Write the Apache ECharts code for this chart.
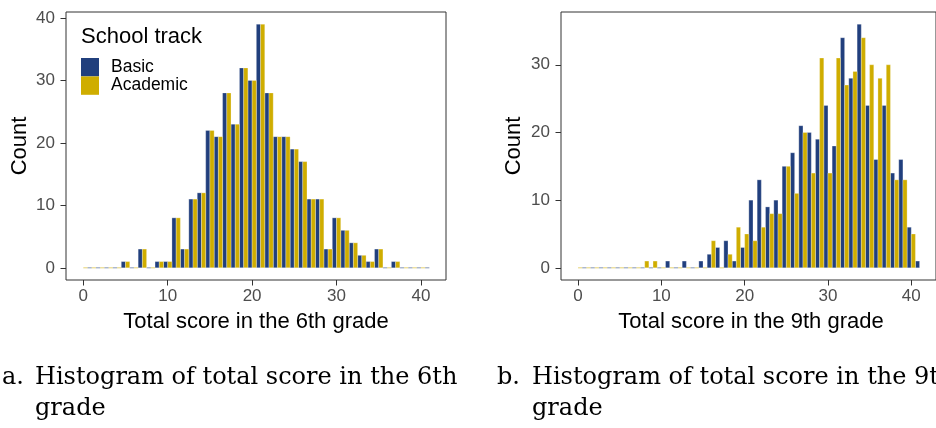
<!DOCTYPE html>
<html>
<head>
<meta charset="utf-8">
<script src="https://cdn.jsdelivr.net/npm/echarts@6/dist/echarts.min.js"></script>
<style>
  html, body { margin: 0; padding: 0; background: #ffffff; }
  #chart { width: 936px; height: 428px; }
</style>
</head>
<body>
<div id="chart"></div>
<script>
// ---- data (score bins, counts per school track) ----
const bins = [0,1,2,3,4,5,6,7,8,9,10,11,12,13,14,15,16,17,18,19,20,21,22,23,24,25,26,27,28,29,30,31,32,33,34,35,36,37,38,39,40,41];
const grade6Basic    = [0,0,0,0,0,1,0,3,0,1,1,8,3,11,12,22,21,28,23,32,30,39,28,21,21,19,17,11,11,3,8,6,4,2,1,3,0,1,0,0,0,0];
const grade6Academic = [0,0,0,0,0,1,0,3,0,1,1,8,3,11,12,22,21,28,23,32,30,39,28,21,21,19,17,11,11,3,8,6,4,2,1,3,0,1,0,0,0,0];
const grade9Basic    = [0,0,0,0,0,0,0,0,0,0,0,1,0,1,0,1,2,3,4,1,3,10,13,9,10,15,17,21,20,19,24,18,34,28,36,24,16,24,14,16,6,1];
const grade9Academic = [0,0,0,0,0,0,0,0,1,1,0,0,0,0,0,0,4,0,2,6,5,4,6,8,8,15,11,20,14,31,14,31,27,29,34,30,28,30,13,13,5,0];
const xTickValues  = [0,10,20,30,40];
const yTickValues6 = [0,10,20,30,40];
const yTickValues9 = [0,10,20,30];
const trackNames = ['Basic','Academic'];
const xTitle6 = 'Total score in the 6th grade';
const xTitle9 = 'Total score in the 9th grade';
const yTitle = 'Count';
const legendTitle = 'School track';
const captionA = ['a.', 'Histogram of total score in the 6th', 'grade'];
const captionB = ['b.', 'Histogram of total score in the 9th', 'grade'];

// ---- styles ----
const BLUE = '#213F7D';
const GOLD = '#CFAD00';
const SANS = '"Liberation Sans", Arial, sans-serif';
const SERIF = '"DejaVu Serif", serif';

const chart = echarts.init(document.getElementById('chart'), null, { renderer: 'canvas' });

const binMin = bins[0], binMax = bins[bins.length - 1];

function renderer(offsetSide) {
  // Basic occupies the left half of a bin, Academic the right half
  return function (params, api) {
    const k = api.value(0);
    const v = api.value(1);
    const x0 = offsetSide === 0 ? k - 0.5 : k;
    const x1 = x0 + 0.5;
    const color = api.visual('color');
    const pTop = api.coord([x0, v]);
    const pBase = api.coord([x1, 0]);
    if (v === 0) {
      if (x0 < binMin || x1 > binMax) return null;
      return {
        type: 'line',
        shape: { x1: pTop[0], y1: pBase[1], x2: pBase[0], y2: pBase[1] },
        style: { stroke: color, opacity: 0.55, lineWidth: 1 }
      };
    }
    return {
      type: 'rect',
      shape: { x: pTop[0], y: pTop[1], width: pBase[0] - pTop[0], height: pBase[1] - pTop[1] },
      style: { fill: color, stroke: 'rgba(255,255,255,0.55)', lineWidth: 0.5 }
    };
  };
}

function series(name, values, side, idx, color) {
  return {
    type: 'custom',
    name: name,
    xAxisIndex: idx,
    yAxisIndex: idx,
    itemStyle: { color: color },
    encode: { x: 0, y: 1 },
    data: bins.map((b, i) => [b, values[i]]),
    renderItem: renderer(side),
    silent: true,
    animation: false
  };
}

function xAxis(idx) {
  return {
    type: 'value', gridIndex: idx, min: -2.05, max: 42.97,
    position: 'bottom',
    axisLine: { show: false, onZero: false },
    splitLine: { show: false },
    axisTick: { show: true, inside: false, length: 5.5, lineStyle: { color: '#333333', width: 1 }, customValues: xTickValues },
    axisLabel: { customValues: xTickValues, margin: 8, fontSize: 17, color: '#4D4D4D', fontFamily: SANS }
  };
}
function yAxis(idx, min, max, ticks) {
  return {
    type: 'value', gridIndex: idx, min: min, max: max,
    position: 'left',
    axisLine: { show: false, onZero: false },
    splitLine: { show: false },
    axisTick: { show: true, inside: false, length: 5.5, lineStyle: { color: '#333333', width: 1 }, customValues: ticks },
    axisLabel: { customValues: ticks, margin: 11, fontSize: 17, color: '#4D4D4D', fontFamily: SANS }
  };
}

function text(x, y, str, opts) {
  return Object.assign({
    type: 'text', x: x, y: y, silent: true,
    style: Object.assign({ text: str, fill: '#000000', font: '22px ' + SANS, align: 'left', verticalAlign: 'middle' }, opts && opts.style)
  }, opts && opts.extra);
}

const graphics = [
  text(256, 322, xTitle6, { style: { align: 'center' } }),
  text(751, 322, xTitle9, { style: { align: 'center' } }),
  text(19.5, 146, yTitle, { style: { align: 'center' }, extra: { rotation: Math.PI / 2 } }),
  text(514, 146, yTitle, { style: { align: 'center' }, extra: { rotation: Math.PI / 2 } }),
  text(81, 37, legendTitle, {}),
  text(2, 378, captionA[0], { style: { font: '24px ' + SERIF } }),
  text(35, 378, captionA[1], { style: { font: '24px ' + SERIF } }),
  text(35, 409, captionA[2], { style: { font: '24px ' + SERIF } }),
  text(497, 378, captionB[0], { style: { font: '24px ' + SERIF } }),
  text(532, 378, captionB[1], { style: { font: '24px ' + SERIF } }),
  text(532, 409, captionB[2], { style: { font: '24px ' + SERIF } })
];

const option = {
  backgroundColor: '#ffffff',
  animation: false,
  grid: [
    { left: 66, top: 12, width: 380, height: 268, show: true, borderColor: '#333333', borderWidth: 1, backgroundColor: 'transparent' },
    { left: 561, top: 12, width: 380, height: 268, show: true, borderColor: '#333333', borderWidth: 1, backgroundColor: 'transparent' }
  ],
  xAxis: [xAxis(0), xAxis(1)],
  yAxis: [yAxis(0, -1.95, 40.95, yTickValues6), yAxis(1, -1.8, 37.8, yTickValues9)],
  legend: {
    data: trackNames,
    orient: 'vertical', left: 81, top: 58,
    itemWidth: 18, itemHeight: 18.4, itemGap: 0,
    icon: 'rect', selectedMode: false,
    padding: 0,
    textStyle: { fontSize: 17.5, color: '#000000', fontFamily: SANS, padding: [0, 0, 0, 7] }
  },
  series: [
    series(trackNames[0], grade6Basic, 0, 0, BLUE),
    series(trackNames[1], grade6Academic, 1, 0, GOLD),
    series(trackNames[0], grade9Basic, 0, 1, BLUE),
    series(trackNames[1], grade9Academic, 1, 1, GOLD)
  ],
  graphic: graphics
};
chart.setOption(option);
</script>
</body>
</html>
